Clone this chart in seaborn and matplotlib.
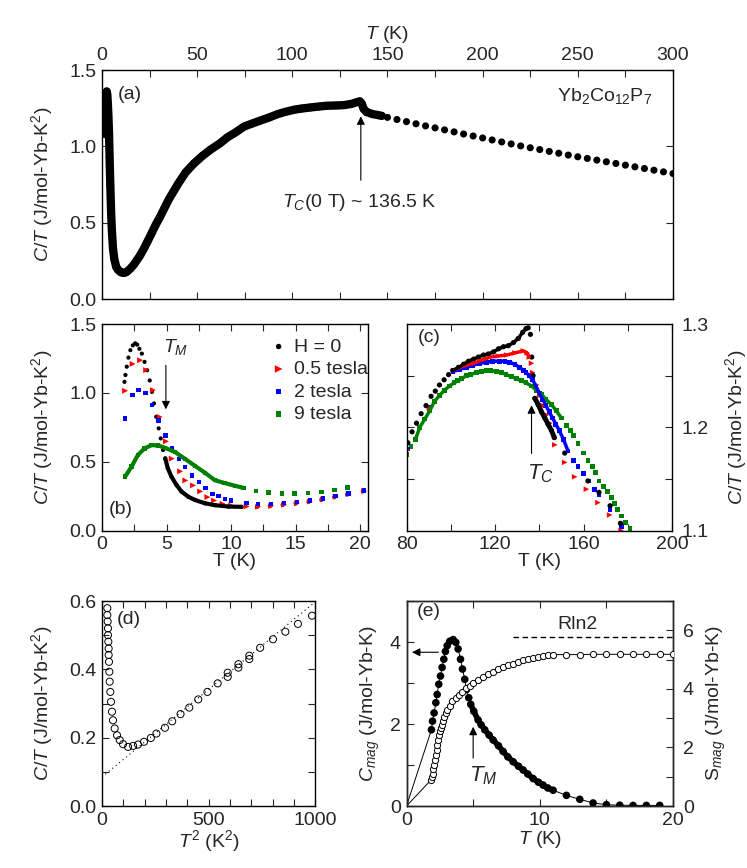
import matplotlib
matplotlib.use('Agg')
import matplotlib.pyplot as plt
from matplotlib.ticker import MultipleLocator
import seaborn as sns
import numpy as np

# ---------------- data ----------------
# (a) C/T vs T, zero field, dense part then sparse high-T points
a_T_dense = [1.8, 2.0, 2.2, 2.5, 2.8, 3.1, 3.4, 3.7, 4.0, 4.4, 4.8, 5.2, 5.8, 6.5, 7.5, 8.5,
             10.0, 11.0, 12.0, 13.0, 15.0, 17.0, 20.0, 22.2, 24.3, 26.3, 28.3, 30.3, 35.0,
             40.0, 44.0, 48.5, 53.0, 57.2, 62.0, 66.0, 70.0, 74.7, 79.0, 83.4, 88.0, 92.0,
             96.0, 100.9, 105.0, 109.6, 114.0, 118.0, 123.0, 127.0, 131.0, 134.0, 135.5,
             136.5, 137.5, 139.0, 142.0, 145.0, 147.0]
a_C_dense = [1.08, 1.20, 1.30, 1.36, 1.34, 1.28, 1.19, 1.09, 0.93, 0.74, 0.57, 0.45, 0.33, 0.26,
             0.21, 0.19, 0.175, 0.172, 0.172, 0.178, 0.20, 0.23, 0.285, 0.334, 0.386, 0.437,
             0.488, 0.533, 0.65, 0.755, 0.83, 0.89, 0.94, 0.98, 1.02, 1.06, 1.09, 1.13, 1.15,
             1.17, 1.19, 1.21, 1.225, 1.24, 1.248, 1.255, 1.261, 1.266, 1.268, 1.27, 1.278,
             1.29, 1.295, 1.28, 1.245, 1.225, 1.212, 1.205, 1.20]
a_T_sparse = [150, 155, 160, 165, 170, 175, 180, 185, 190, 195, 200, 205, 210, 215, 220, 225,
              230, 235, 240, 245, 250, 255, 260, 265, 270, 275, 280, 285, 290, 295, 300]
a_C_sparse = [1.190, 1.176, 1.162, 1.148, 1.134, 1.121, 1.108, 1.095, 1.081, 1.068, 1.055,
              1.042, 1.029, 1.016, 1.003, 0.991, 0.979, 0.967, 0.955, 0.943, 0.932, 0.921,
              0.910, 0.899, 0.888, 0.877, 0.866, 0.855, 0.844, 0.833, 0.822]

# (b) low-T C/T in fields
b0_T = [1.74, 1.82, 1.92, 2.05, 2.2, 2.39, 2.57, 2.73, 2.9, 3.09, 3.3, 3.5, 3.7, 3.87, 4.03,
        4.2, 4.39, 4.55, 4.73, 4.9, 5.1, 5.38, 5.77, 6.16, 6.68, 7.19, 7.97, 8.75, 9.8, 10.8,
        12, 13, 14, 15, 16, 17, 18, 19, 20.2]
b0_C = [1.08, 1.13, 1.19, 1.256, 1.31, 1.345, 1.36, 1.35, 1.32, 1.285, 1.225, 1.164, 1.09,
        1.007, 0.923, 0.826, 0.742, 0.669, 0.585, 0.524, 0.452, 0.391, 0.331, 0.283, 0.246,
        0.222, 0.198, 0.184, 0.174, 0.172, 0.171, 0.177, 0.186, 0.197, 0.209, 0.224, 0.243,
        0.262, 0.285]
b05_T = [1.79, 2.37, 2.95, 3.42, 3.95, 4.47, 4.95, 5.4, 6.05, 6.45, 7.05, 7.6, 8.16, 8.68, 9.34,
         10.0, 11.2, 12.1, 13.1, 14.1, 15.1, 16.1, 17.1, 18.1, 19.1, 20.3]
b05_C = [1.015, 1.21, 1.237, 1.165, 1.02, 0.825, 0.648, 0.522, 0.43, 0.364, 0.328, 0.284, 0.243,
         0.218, 0.194, 0.182, 0.175, 0.172, 0.178, 0.187, 0.198, 0.21, 0.226, 0.245, 0.265, 0.287]
b2_T = [1.79, 2.37, 2.84, 3.37, 3.87, 4.39, 4.92, 5.42, 5.97, 6.45, 6.97, 7.5, 8.03, 8.55, 9.03,
        9.53, 10.0, 11.18, 12.1, 13.1, 14.1, 15.1, 16.1, 17.1, 18.1, 19.1, 20.3]
b2_C = [0.815, 0.983, 1.02, 0.998, 0.91, 0.80, 0.69, 0.6, 0.52, 0.46, 0.40, 0.352, 0.308, 0.265,
        0.25, 0.228, 0.218, 0.2, 0.194, 0.194, 0.2, 0.208, 0.218, 0.232, 0.25, 0.268, 0.29]
b9_T = [1.79, 2.29, 2.78, 3.3, 3.84, 4.36, 4.88, 5.66, 6.44, 7.2, 7.97, 8.75, 9.5, 10.3, 10.96,
        11.95, 12.9, 13.95, 14.9, 15.97, 17.0, 18.0, 19.0]
b9_C = [0.391, 0.464, 0.548, 0.597, 0.62, 0.618, 0.601, 0.57, 0.52, 0.47, 0.42, 0.365, 0.345,
        0.325, 0.31, 0.285, 0.277, 0.27, 0.27, 0.273, 0.28, 0.294, 0.312]
field_labels = ['H = 0', '0.5 tesla', '2 tesla', '9 tesla']

# (c) C/T around T_C in fields
c0_T = [80.6, 82.5, 84.5, 86.6, 88.8, 91.1, 93.0, 94.9, 97.0, 99.0, 100.9, 103.5, 105.8, 108.0,
        110.3, 112.5, 114.8, 117.0, 119.3, 121.6, 123.8, 126.0, 128.3, 130.5, 132.5, 134.0,
        135.0, 136.0, 136.6, 137.2, 138.0, 139.5, 141.0, 142.5, 144.0, 145.5, 146.8, 151.5,
        162.0, 167.0, 172.0, 176.7]
c0_C = [1.185, 1.1956, 1.204, 1.2132, 1.221, 1.23, 1.235, 1.241, 1.246, 1.251, 1.255, 1.258,
        1.261, 1.264, 1.266, 1.268, 1.27, 1.271, 1.273, 1.276, 1.278, 1.279, 1.282, 1.286,
        1.292, 1.2956, 1.2963, 1.29, 1.268, 1.25, 1.228, 1.222, 1.215, 1.209, 1.203, 1.197,
        1.19, 1.175, 1.148, 1.137, 1.124, 1.107]
c05_T = [80.5, 90.3, 101.3, 104, 107, 110.3, 114, 117.8, 121.5, 125.3, 129, 132.8, 134.5, 135.5,
         136.5, 137, 138.8, 140.3, 141.8, 143.3, 144.8, 147, 151.5, 156, 161.3, 166.5, 171.8, 177]
c05_C = [1.178, 1.219, 1.255, 1.258, 1.26, 1.262, 1.265, 1.268, 1.269, 1.27, 1.272, 1.274, 1.272,
         1.268, 1.262, 1.253, 1.241, 1.231, 1.221, 1.212, 1.204, 1.183, 1.166, 1.152, 1.14,
         1.127, 1.115, 1.1]
c2_T = [80.5, 90.3, 101, 104, 107, 110, 113, 116, 119, 122, 124.5, 126.5, 129, 131, 133, 134,
        135.5, 137, 138.5, 140, 141.5, 143, 144.5, 146, 147.5, 149, 151, 153, 155.3, 157.5, 160,
        162.5, 165, 167, 172, 177]
c2_C = [1.179, 1.219, 1.254, 1.256, 1.258, 1.26, 1.262, 1.263, 1.264, 1.264, 1.264, 1.263,
        1.261, 1.258, 1.255, 1.253, 1.25, 1.246, 1.24, 1.233, 1.227, 1.221, 1.215, 1.209,
        1.203, 1.197, 1.188, 1.177, 1.168, 1.162, 1.155, 1.148, 1.14, 1.135, 1.12, 1.104]
c9_T = [80, 82, 84, 86, 88.3, 90.5, 92.6, 95, 97.2, 99.4, 101.5, 103.2, 105, 107, 109, 111.5,
        114, 116, 118, 120.5, 123, 125, 127.5, 129.6, 132, 134, 136.5, 138.7, 141, 143, 145.5,
        147.7, 150, 152.2, 154, 155.3, 157.5, 160, 162, 164, 165.5, 167, 169, 171, 172.5, 174,
        175.5, 177, 179, 181]
c9_C = [1.174, 1.181, 1.188, 1.2, 1.208, 1.216, 1.225, 1.231, 1.236, 1.24, 1.243, 1.245, 1.247,
        1.25, 1.251, 1.253, 1.254, 1.255, 1.255, 1.254, 1.253, 1.251, 1.249, 1.247, 1.245,
        1.243, 1.24, 1.236, 1.232, 1.227, 1.222, 1.216, 1.209, 1.202, 1.197, 1.192, 1.184,
        1.175, 1.168, 1.162, 1.156, 1.148, 1.143, 1.138, 1.132, 1.126, 1.12, 1.114, 1.108, 1.102]

# (d) C/T vs T^2
d_T2 = [25.1, 25.1, 26.6, 28.2, 28.2, 29.8, 31.3, 31.3, 32.9, 34.5, 36.1, 39.2, 42.3, 47.0,
        51.7, 59.6, 70.5, 83.1, 98.7, 122.3, 146, 169, 197, 229, 255, 295, 329, 368, 409, 451,
        494, 542, 589, 589, 639, 639, 690, 690, 741, 801, 859, 918, 984]
d_C = [0.579, 0.559, 0.54, 0.52, 0.5, 0.481, 0.461, 0.442, 0.422, 0.393, 0.364, 0.334, 0.305,
       0.276, 0.251, 0.227, 0.207, 0.193, 0.181, 0.173, 0.176, 0.18, 0.188, 0.199, 0.212,
       0.229, 0.248, 0.269, 0.288, 0.312, 0.334, 0.359, 0.39, 0.378, 0.415, 0.405, 0.44, 0.43,
       0.463, 0.488, 0.51, 0.533, 0.557]
gamma0 = 0.085      # intercept of the dotted fit line
beta = 0.000513     # slope of the dotted fit line
fit_T2 = [0, 1000]

# (e) magnetic specific heat and entropy
cmag_T = [1.87, 1.95, 2.07, 2.2, 2.3, 2.42, 2.55, 2.67, 2.8, 2.92, 3.05, 3.25, 3.5, 3.7, 3.87,
          4.05, 4.2, 4.37, 4.5, 4.67, 4.82, 5.05, 5.37, 5.6, 5.87, 6.2, 6.5, 6.9, 7.25, 7.6,
          8.0, 8.4, 8.75, 9.1, 9.5, 9.9, 10.25, 10.6, 11.0, 12, 13, 14, 15, 16, 17, 18, 19]
cmag = [1.86, 2.07, 2.27, 2.52, 2.72, 2.97, 3.17, 3.38, 3.58, 3.77, 3.91, 4.02, 4.06, 3.99,
        3.83, 3.58, 3.34, 3.09, 2.84, 2.64, 2.48, 2.31, 2.1, 1.98, 1.86, 1.73, 1.61, 1.47, 1.33,
        1.2, 1.08, 0.97, 0.88, 0.78, 0.67, 0.58, 0.51, 0.44, 0.385, 0.26, 0.164, 0.074, 0.033,
        0.02, 0.015, 0.015, 0.015]
smag_T = [1.82, 1.88, 1.95, 2.01, 2.07, 2.13, 2.2, 2.26, 2.32, 2.38, 2.45, 2.52, 2.58, 2.65,
          2.73, 2.82, 2.95, 3.07, 3.25, 3.45, 3.7, 3.95, 4.2, 4.45, 4.75, 5.0, 5.4, 5.75, 6.1,
          6.5, 6.9, 7.25, 7.6, 8.0, 8.4, 8.75, 9.1, 9.5, 9.9, 10.25, 10.6, 11.0,
          12, 13, 14, 15, 16, 17, 18, 19, 20]
smag = [0.88, 1.0, 1.11, 1.25, 1.39, 1.56, 1.74, 1.91, 2.08, 2.25, 2.42, 2.55, 2.66, 2.77,
        2.9, 3.05, 3.17, 3.28, 3.42, 3.57, 3.68, 3.79, 3.91, 4.02, 4.11, 4.19, 4.31, 4.42, 4.51,
        4.59, 4.67, 4.74, 4.8, 4.86, 4.92, 4.97, 5.01, 5.05, 5.08, 5.11, 5.14, 5.17,
        5.17, 5.17, 5.18, 5.18, 5.18, 5.18, 5.18, 5.18, 5.18]
Rln2 = 5.763

# ---------------- style ----------------
sns.set_style('ticks')
plt.rcParams['font.family'] = ['Liberation Sans', 'DejaVu Sans']
plt.rcParams['mathtext.fontset'] = 'custom'
plt.rcParams['mathtext.rm'] = 'Liberation Sans'
plt.rcParams['mathtext.it'] = 'Liberation Sans:italic'
plt.rcParams['font.size'] = 14
plt.rcParams['axes.linewidth'] = 1.0

FS = 14
RED, BLUE, GREEN = '#ff0000', '#0000ff', '#008000'
ylab = r'$C/T$ (J/mol-Yb-K$^2$)'


def style_ax(ax, xmaj, xmin, ymaj, ymin, right=True):
    ax.xaxis.set_major_locator(MultipleLocator(xmaj))
    ax.xaxis.set_minor_locator(MultipleLocator(xmin))
    ax.yaxis.set_major_locator(MultipleLocator(ymaj))
    ax.yaxis.set_minor_locator(MultipleLocator(ymin))
    ax.tick_params(which='both', direction='in', top=True, right=right,
                   length=5, width=0.8, labelsize=FS, pad=4)
    for s in ax.spines.values():
        s.set_linewidth(1.0)
        s.set_color('k')


def dense_line(ax, T, C, lo, hi, color, lw):
    T = np.asarray(T)
    C = np.asarray(C)
    m = (T >= lo) & (T <= hi)
    sns.lineplot(x=T[m], y=C[m], ax=ax, color=color, lw=lw, sort=False, estimator=None)


fig = plt.figure(figsize=(7.47, 8.68), dpi=100)
ax_a = fig.add_axes([0.1365, 0.6555, 0.7644, 0.2638])
ax_b = fig.add_axes([0.1365, 0.3888, 0.3561, 0.2379])
ax_c = fig.add_axes([0.5442, 0.3888, 0.3554, 0.2379])
ax_d = fig.add_axes([0.1365, 0.0714, 0.2858, 0.2362])
ax_e = fig.add_axes([0.5442, 0.0714, 0.3568, 0.2362])

# ---------------- (a) ----------------
sns.lineplot(x=a_T_dense, y=a_C_dense, ax=ax_a, color='k', lw=6, sort=False, estimator=None)
sns.scatterplot(x=a_T_dense, y=a_C_dense, ax=ax_a, color='k', s=30, edgecolor='none')
sns.scatterplot(x=a_T_sparse, y=a_C_sparse, ax=ax_a, color='k', s=26, edgecolor='none')
ax_a.set_xlim(0, 300)
ax_a.set_ylim(0, 1.5)
style_ax(ax_a, 50, 25, 0.5, 0.5)
ax_a.tick_params(labeltop=True, labelbottom=False)
ax_a.xaxis.set_label_position('top')
ax_a.set_xlabel(r'$T$ (K)', fontsize=FS, labelpad=6)
ax_a.set_ylabel(ylab, fontsize=FS, labelpad=10)
ax_a.text(8.5, 1.34, '(a)', fontsize=FS, va='center')
ax_a.text(289, 1.33, r'Yb$_2$Co$_{12}$P$_7$', fontsize=FS, ha='right', va='center')
ax_a.annotate('', xy=(136, 1.215), xytext=(136, 0.76),
              arrowprops=dict(arrowstyle='-|>', color='k', lw=0.8, mutation_scale=12))
ax_a.text(135, 0.63, r'$T_C$(0 T) ~ 136.5 K', fontsize=FS, ha='center', va='center')

# ---------------- (b) ----------------
sns.scatterplot(x=b0_T, y=b0_C, ax=ax_b, color='k', s=9, edgecolor='none', label=field_labels[0])
dense_line(ax_b, b0_T, b0_C, 4.9, 11, 'k', 3)
sns.scatterplot(x=b05_T, y=b05_C, ax=ax_b, color=RED, marker='>', s=18, edgecolor='none',
                label=field_labels[1])
sns.scatterplot(x=b2_T, y=b2_C, ax=ax_b, color=BLUE, marker='s', s=10, edgecolor='none',
                label=field_labels[2])
sns.scatterplot(x=b9_T, y=b9_C, ax=ax_b, color=GREEN, marker='s', s=10, edgecolor='none',
                label=field_labels[3])
dense_line(ax_b, b9_T, b9_C, 1.7, 11, GREEN, 3)
ax_b.set_xlim(0, 20.6)
ax_b.set_ylim(0, 1.5)
style_ax(ax_b, 5, 2.5, 0.5, 0.5)
ax_b.set_xlabel('T (K)', fontsize=FS, labelpad=0)
ax_b.set_ylabel(ylab, fontsize=FS, labelpad=10)
ax_b.legend(loc='upper right', bbox_to_anchor=(1.03, 0.97), frameon=False, fontsize=FS,
            handletextpad=0.2, handlelength=1.2, labelspacing=0.25, markerscale=1.3,
            borderaxespad=0)
ax_b.text(0.5, 0.15, '(b)', fontsize=FS, va='center')
ax_b.text(4.7, 1.33, r'$T_M$', fontsize=FS, va='center')
ax_b.annotate('', xy=(4.95, 0.86), xytext=(4.95, 1.22),
              arrowprops=dict(arrowstyle='-|>', color='k', lw=0.8, mutation_scale=12))

# ---------------- (c) ----------------
sns.scatterplot(x=c9_T, y=c9_C, ax=ax_c, color=GREEN, marker='s', s=12, edgecolor='none')
dense_line(ax_c, c9_T, c9_C, 84, 150, GREEN, 2.5)
sns.scatterplot(x=c2_T, y=c2_C, ax=ax_c, color=BLUE, marker='s', s=12, edgecolor='none')
dense_line(ax_c, c2_T, c2_C, 100, 153, BLUE, 2.5)
sns.scatterplot(x=c05_T, y=c05_C, ax=ax_c, color=RED, marker='>', s=16, edgecolor='none')
dense_line(ax_c, c05_T, c05_C, 100, 135.6, RED, 2.5)
sns.scatterplot(x=c0_T, y=c0_C, ax=ax_c, color='k', s=14, edgecolor='none')
dense_line(ax_c, c0_T, c0_C, 100, 135.1, 'k', 2.5)
dense_line(ax_c, c0_T, c0_C, 138, 147, 'k', 3.5)
ax_c.set_xlim(80, 200)
ax_c.set_ylim(1.1, 1.3)
style_ax(ax_c, 40, 20, 0.1, 0.05)
ax_c.tick_params(left=True, labelleft=False, labelright=True)
ax_c.tick_params(axis='y', pad=7)
ax_c.yaxis.set_label_position('right')
ax_c.set_xlabel('T (K)', fontsize=FS, labelpad=0)
ax_c.set_ylabel(ylab, fontsize=FS, labelpad=10)
ax_c.text(85, 1.287, '(c)', fontsize=FS, va='center')
ax_c.annotate('', xy=(136.5, 1.224), xytext=(136.5, 1.172),
              arrowprops=dict(arrowstyle='-|>', color='k', lw=0.8, mutation_scale=12))
ax_c.text(134.5, 1.155, r'$T_C$', fontsize=FS + 2, va='center')

# ---------------- (d) ----------------
fit_C = [gamma0 + beta * t for t in fit_T2]
sns.lineplot(x=fit_T2, y=fit_C, ax=ax_d, color='k', lw=0.8, linestyle=(0, (1, 3)))
sns.scatterplot(x=d_T2, y=d_C, ax=ax_d, marker='o', s=26, facecolor='none', edgecolor='k',
                linewidth=0.7)
ax_d.set_xlim(0, 1000)
ax_d.set_ylim(0, 0.6)
style_ax(ax_d, 500, 100, 0.2, 0.1)
ax_d.set_xlabel(r'$T^2$ (K$^2$)', fontsize=FS, labelpad=0)
ax_d.set_ylabel(ylab, fontsize=FS, labelpad=10)
ax_d.text(70, 0.545, '(d)', fontsize=FS, va='center')

# ---------------- (e) ----------------
ax_s = ax_e.twinx()
sns.lineplot(x=[0] + cmag_T, y=[0] + cmag, ax=ax_e, color='k', lw=0.7, sort=False, estimator=None)
dense_line(ax_e, cmag_T, cmag, 4.8, 11, 'k', 4)
sns.scatterplot(x=cmag_T, y=cmag, ax=ax_e, color='k', s=30, edgecolor='none')
sns.lineplot(x=[0] + smag_T, y=[0] + smag, ax=ax_s, color='k', lw=0.7, sort=False, estimator=None)
sns.scatterplot(x=smag_T, y=smag, ax=ax_s, marker='o', s=20, facecolor='white', edgecolor='k',
                linewidth=0.7, zorder=3)
sns.lineplot(x=[8, 20], y=[Rln2, Rln2], ax=ax_s, color='k', lw=1.0, linestyle=(0, (4, 2.5)))
ax_e.set_xlim(0, 20)
ax_e.set_ylim(0, 5)
ax_s.set_ylim(0, 7)
style_ax(ax_e, 10, 5, 2, 1, right=False)
ax_s.yaxis.set_major_locator(MultipleLocator(2))
ax_s.yaxis.set_minor_locator(MultipleLocator(1))
ax_s.tick_params(which='both', direction='in', length=5, width=0.8, labelsize=FS, pad=7)
ax_e.set_xlabel(r'$T$ (K)', fontsize=FS, labelpad=0)
ax_e.set_ylabel(r'$C_{mag}$ (J/mol-Yb-K)', fontsize=FS, labelpad=6)
ax_s.set_ylabel(r'S$_{mag}$ (J/mol-Yb-K)', fontsize=FS, labelpad=8)
ax_e.text(0.75, 4.75, '(e)', fontsize=FS, va='center')
ax_s.text(12.8, 6.2, 'Rln2', fontsize=FS, ha='center', va='center')
ax_e.annotate('', xy=(0.2, 3.75), xytext=(2.6, 3.75),
              arrowprops=dict(arrowstyle='-|>', color='k', lw=0.8, mutation_scale=12))
ax_e.annotate('', xy=(5.0, 2.0), xytext=(5.0, 1.1),
              arrowprops=dict(arrowstyle='-|>', color='k', lw=0.8, mutation_scale=12))
ax_e.text(4.7, 0.75, r'$T_M$', fontsize=FS + 2, va='center')

fig.savefig('out.png', dpi=100)
